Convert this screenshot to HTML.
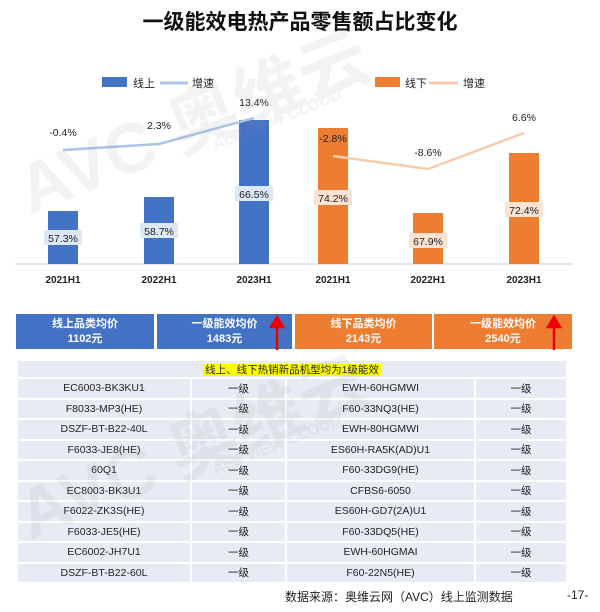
<!DOCTYPE html>
<html><head><meta charset="utf-8"><style>
body{margin:0;width:600px;height:612px;background:#fff;position:relative;overflow:hidden;font-family:"Liberation Sans","Noto Sans CJK SC",sans-serif;}
.abs{position:absolute}
.title{left:0;width:600px;top:6px;text-align:center;font-size:21px;font-weight:bold;color:#111}
.box{position:absolute;top:314px;height:35px;color:#fff;font-weight:bold;font-size:11px;text-align:center;line-height:15px;padding-top:3px;box-sizing:border-box}
table{position:absolute;left:16px;top:359px;width:552px;border-collapse:separate;border-spacing:2px;font-size:10.5px;color:#222}
td{background:#e9ebf4;height:18.5px;text-align:center;padding:0}
</style></head><body>
<div class="abs title">一级能效电热产品零售额占比变化</div>
<svg class="abs" style="left:0;top:0" width="600" height="612">
<g font-size="11" fill="#222">
<rect x="102" y="77" width="25" height="10" fill="#4472c4"/><text x="133" y="87">线上</text>
<line x1="160" y1="83" x2="188" y2="83" stroke="#aec3e6" stroke-width="3"/><text x="192" y="87">增速</text>
<rect x="375" y="77" width="25" height="10" fill="#ed7d31"/><text x="405" y="87">线下</text>
<line x1="429" y1="83" x2="458" y2="83" stroke="#f8cbad" stroke-width="3"/><text x="463" y="87">增速</text>
</g>
<line x1="15" y1="264" x2="573" y2="264" stroke="#ccc"/>
<g fill="#4472c4"><rect x="48" y="211" width="30" height="53"/><rect x="144" y="197" width="30" height="67"/><rect x="239" y="120" width="30" height="144"/></g>
<g fill="#ed7d31"><rect x="318" y="128" width="30" height="136"/><rect x="413" y="213" width="30" height="51"/><rect x="509" y="153" width="30" height="111"/></g>
<polyline points="63,150 159,144 254,118" fill="none" stroke="#aec3e6" stroke-width="2.5"/>
<polyline points="333,156 428,169 524,133" fill="none" stroke="#f8cbad" stroke-width="2.5"/>
<g font-size="10.5" fill="#222" text-anchor="middle">
<rect x="44" y="230" width="38" height="15" fill="#dde8f5"/><text x="63" y="242">57.3%</text>
<rect x="140" y="223" width="38" height="15" fill="#dde8f5"/><text x="159" y="235">58.7%</text>
<rect x="235" y="186" width="38" height="15" fill="#dde8f5"/><text x="254" y="198">66.5%</text>
<rect x="314" y="190" width="38" height="15" fill="#fbe3d3"/><text x="333" y="202">74.2%</text>
<rect x="409" y="233" width="38" height="15" fill="#fbe3d3"/><text x="428" y="245">67.9%</text>
<rect x="505" y="202" width="38" height="15" fill="#fbe3d3"/><text x="524" y="214">72.4%</text>
<text x="63" y="136">-0.4%</text><text x="159" y="129">2.3%</text><text x="254" y="106">13.4%</text>
<text x="333" y="142">-2.8%</text><text x="428" y="156">-8.6%</text><text x="524" y="121">6.6%</text>
<g font-weight="bold" font-size="10">
<text x="63" y="283">2021H1</text><text x="159" y="283">2022H1</text><text x="254" y="283">2023H1</text>
<text x="333" y="283">2021H1</text><text x="428" y="283">2022H1</text><text x="524" y="283">2023H1</text></g>
</g>
</svg>
<div class="box" style="left:16px;width:138px;background:#4472c4">线上品类均价<br>1102元</div>
<div class="box" style="left:157px;width:135px;background:#4472c4">一级能效均价<br>1483元</div>
<div class="box" style="left:295px;width:137px;background:#ed7d31">线下品类均价<br>2143元</div>
<div class="box" style="left:434px;width:138px;background:#ed7d31">一级能效均价<br>2540元</div>
<svg class="abs" style="left:0;top:0" width="600" height="612">
<g stroke="#e00" stroke-width="2.5" fill="#e00">
<line x1="277" y1="350" x2="277" y2="324"/><polygon points="271,327 277,317 283,327"/>
<line x1="554" y1="350" x2="554" y2="324"/><polygon points="548,327 554,317 560,327"/>
</g></svg>
<table>
<tr><td colspan="4" style="height:16px"><span style="background:#ff0;padding:0 2px">线上、线下热销新品机型均为1级能效</span></td></tr>
<tr><td style="width:172px">EC6003-BK3KU1</td><td style="width:93px">一级</td><td style="width:187px">EWH-60HGMWI</td><td>一级</td></tr>
<tr><td>F8033-MP3(HE)</td><td>一级</td><td>F60-33NQ3(HE)</td><td>一级</td></tr>
<tr><td>DSZF-BT-B22-40L</td><td>一级</td><td>EWH-80HGMWI</td><td>一级</td></tr>
<tr><td>F6033-JE8(HE)</td><td>一级</td><td>ES60H-RA5K(AD)U1</td><td>一级</td></tr>
<tr><td>60Q1</td><td>一级</td><td>F60-33DG9(HE)</td><td>一级</td></tr>
<tr><td>EC8003-BK3U1</td><td>一级</td><td>CFBS6-6050</td><td>一级</td></tr>
<tr><td>F6022-ZK3S(HE)</td><td>一级</td><td>ES60H-GD7(2A)U1</td><td>一级</td></tr>
<tr><td>F6033-JE5(HE)</td><td>一级</td><td>F60-33DQ5(HE)</td><td>一级</td></tr>
<tr><td>EC6002-JH7U1</td><td>一级</td><td>EWH-60HGMAI</td><td>一级</td></tr>
<tr><td>DSZF-BT-B22-60L</td><td>一级</td><td>F60-22N5(HE)</td><td>一级</td></tr>
</table>
<svg class="abs" style="left:0;top:0;pointer-events:none" width="600" height="612">
<g fill="#999" opacity="0.12" font-weight="bold" font-family="Liberation Sans,Noto Sans CJK SC,sans-serif">
<text x="30" y="215" font-size="70" transform="rotate(-22 30 215)">AVC 奥维云</text>
<text x="215" y="150" font-size="16" transform="rotate(-22 215 150)">ALL VIEW CLOUD</text>
<text x="30" y="540" font-size="70" transform="rotate(-22 30 540)">AVC 奥维云</text>
<text x="215" y="475" font-size="16" transform="rotate(-22 215 475)">ALL VIEW CLOUD</text>
</g></svg>
<div class="abs" style="left:285px;top:588px;font-size:12px;color:#222">数据来源：奥维云网（AVC）线上监测数据</div>
<div class="abs" style="left:567px;top:588px;font-size:12px;color:#222">-17-</div>
</body></html>
